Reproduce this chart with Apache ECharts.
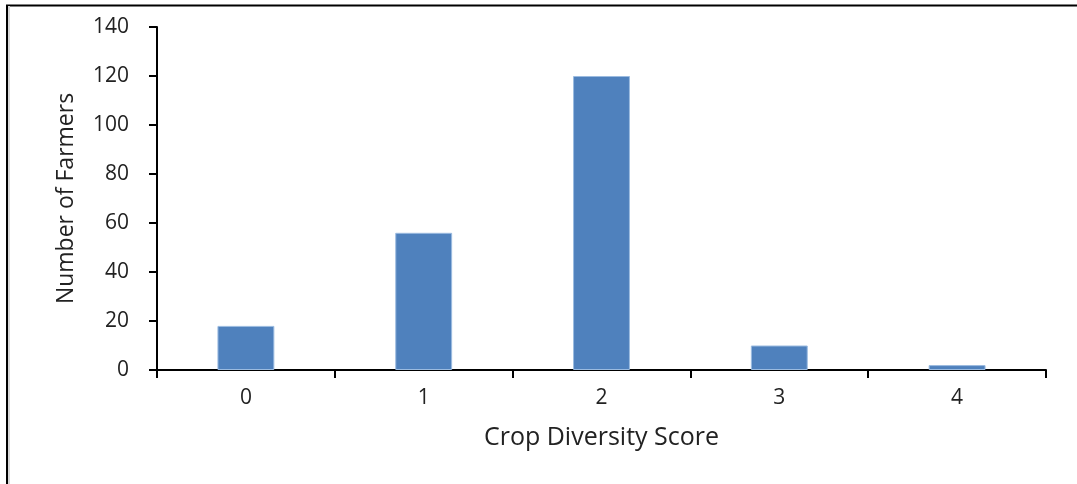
<!DOCTYPE html>
<html>
<head>
<meta charset="utf-8">
<script src="https://cdn.jsdelivr.net/npm/echarts@6/dist/echarts.min.js"></script>
<style>
html,body{margin:0;padding:0;background:#fff;}
#chart{width:1077px;height:484px;}
</style>
</head>
<body>
<div id="chart"></div>
<script>
const categories = ['0', '1', '2', '3', '4'];
const farmers = [18, 56, 120, 10, 2];
const yTicks = [0, 20, 40, 60, 80, 100, 120, 140];

const chart = echarts.init(document.getElementById('chart'), null, {renderer: 'canvas'});
const font = '"Open Sans", "Liberation Sans", sans-serif';
chart.setOption({
  animation: false,
  backgroundColor: '#ffffff',
  graphic: [
    {type: 'line', shape: {x1: 6, y1: 5.5, x2: 1077, y2: 5.5}, style: {stroke: '#000', lineWidth: 2}},
    {type: 'line', shape: {x1: 7, y1: 5, x2: 7, y2: 484}, style: {stroke: '#000', lineWidth: 2}},
    {type: 'line', shape: {x1: 9, y1: 6, x2: 9, y2: 484}, style: {stroke: '#d8d8d8', lineWidth: 2}}
  ],
  grid: {left: 157, right: 31, top: 27, bottom: 114, containLabel: false},
  xAxis: {
    type: 'category',
    data: categories,
    name: 'Crop Diversity Score',
    nameLocation: 'middle',
    nameGap: 55,
    nameTextStyle: {fontFamily: font, fontSize: 25, color: '#222'},
    axisLine: {lineStyle: {color: '#000', width: 2}},
    axisTick: {show: true, alignWithLabel: false, length: 8, lineStyle: {color: '#000', width: 2}},
    axisLabel: {fontFamily: font, fontSize: 21, color: '#222', margin: 18}
  },
  yAxis: {
    type: 'value',
    min: yTicks[0],
    max: yTicks[yTicks.length - 1],
    interval: 20,
    name: 'Number of Farmers',
    nameLocation: 'middle',
    nameGap: 79,
    nameTextStyle: {fontFamily: font, fontSize: 23, color: '#222'},
    splitLine: {show: false},
    axisLine: {show: true, lineStyle: {color: '#000', width: 2}},
    axisTick: {show: true, length: 8, lineStyle: {color: '#000', width: 2}},
    axisLabel: {fontFamily: font, fontSize: 21, color: '#222', margin: 28}
  },
  series: [{
    type: 'bar',
    data: farmers,
    barWidth: '32%',
    itemStyle: {color: '#4F81BD', borderColor: '#9bbbe0', borderWidth: 1}
  }]
});
</script>
</body>
</html>
